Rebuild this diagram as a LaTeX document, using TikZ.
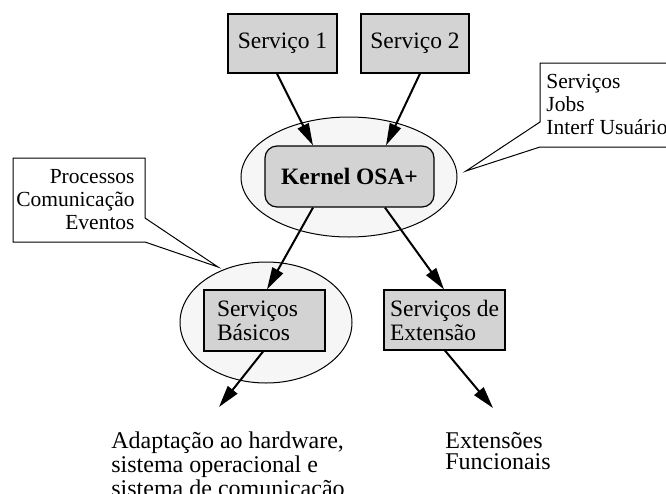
\documentclass[tikz,border=0pt]{standalone}
\usepackage{fontspec}
\setmainfont{Liberation Serif}
\usetikzlibrary{arrows.meta,calc,shapes.geometric}
\definecolor{boxgray}{HTML}{D3D3D3}
\definecolor{ellgray}{HTML}{F6F6F6}
\begin{document}
\begin{tikzpicture}[x=0.5pt,y=-0.5pt,
  svc/.style={draw, fill=boxgray, line width=0.6pt, inner sep=0pt, font=\fontsize{11.75}{12}\selectfont},
  ell/.style={ellipse, draw, fill=ellgray, line width=0.5pt, inner sep=0pt},
  arr/.style={-{Triangle[length=11pt,width=6pt]}, line width=1pt},
  callout/.style={draw, line width=0.5pt, fill=white},
  note/.style={font=\fontsize{10.75}{11.5}\selectfont, inner sep=0pt},
  outtext/.style={font=\fontsize{12}{10.5}\selectfont, inner sep=0pt, align=left, anchor=north west}]
\useasboundingbox (0,0) rectangle (666,494);
\clip (0,0) rectangle (666,494);
% ellipses
\node[ell, minimum width=108pt, minimum height=60pt] (ke) at (349,177) {};
\node[ell, minimum width=86pt, minimum height=60.5pt] (be) at (266,322.5) {};
% boxes
\node[svc, minimum width=54.5pt, minimum height=29.5pt] (s1) at (282.5,43.5) {Serviço 1};
\node[svc, minimum width=54pt, minimum height=29.5pt] (s2) at (415,43.5) {Serviço 2};
\node[svc, rounded corners=6pt, minimum width=84.5pt, minimum height=30.5pt,
      font=\fontsize{11.75}{12}\selectfont\bfseries] (kr) at (349.5,176.5) {Kernel OSA+};
\node[svc, text width=47.5pt, inner xsep=6.5pt, align=left, minimum height=30.5pt] (bb) at (264.5,320.5) {Serviços\\Básicos};
\node[svc, align=left, minimum width=60.5pt, minimum height=30pt] (eb) at (444.5,320) {Serviços de\\Extensão};
% callouts
\draw[callout] (540,63) -- (680,63) -- (680,147) -- (540,147) -- (466,171) -- (540,122) -- cycle;
\node[note, anchor=north west, align=left] (nr) at (546,73.5) {Serviços\\Jobs\\Interf Usuário};
\draw[callout] (13,158) -- (145,158) -- (145,218) -- (218,267) -- (145,242) -- (13,242) -- cycle;
\node[note, anchor=north east, align=right] (nl) at (135,169) {Processos\\Comunicação\\Eventos};
% outputs
\node[outtext] (ol) at (111,431.5) {Adaptação ao hardware,\\sistema operacional e\\sistema de comunicação};
\node[outtext] (or) at (445,432) {Extensões\\Funcionais};
\coordinate (el) at (219,407);
\coordinate (er) at (493,408);
% arrows
\draw[arr] ($(s1.south)+(-5.5,0)$) -- ($(kr.north)+(-36.5,0)$);
\draw[arr] ($(s2.south)+(5,0)$) -- ($(kr.north)+(36.5,0)$);
\draw[arr] ($(kr.south)+(-36.5,0)$) -- ($(bb.north)+(2.5,0)$);
\draw[arr] ($(kr.south)+(35.5,0)$) -- ($(eb.north)+(-0.5,0)$);
\draw[arr] ($(bb.south)+(-1.5,0)$) -- (el);
\draw[arr] ($(eb.south)+(0.5,0)$) -- (er);
\end{tikzpicture}
\end{document}
